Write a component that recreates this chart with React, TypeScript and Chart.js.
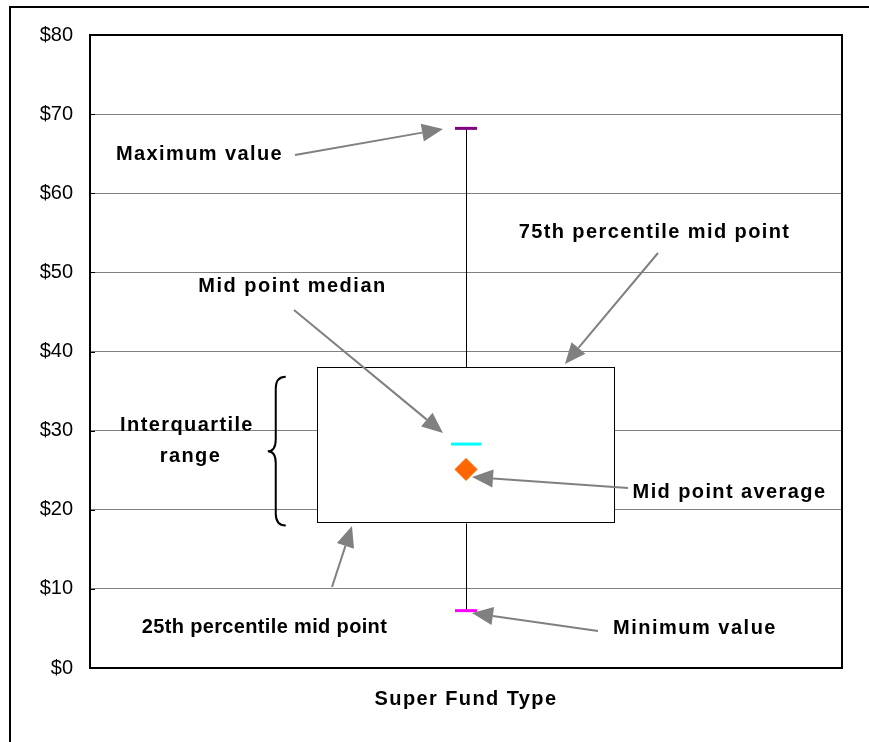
import React, { useEffect, useRef } from 'react';
import { Chart, registerables } from 'chart.js';

Chart.register(...registerables);

// ---- data ----
const categories = ['Super Fund Type'];
const q1Values = [18.3];
const q3Values = [38.0];
const medianValues = [28.3];
const averageValues = [25.1];
const maxValues = [68.2];
const minValues = [7.25];
const yMin = 0;
const yMax = 80;
const yStep = 10;
const tickPrefix = '$';

// ---- annotations (x as fraction of plot width, y as axis value) ----
const annotationTexts = [
  'Maximum value',
  '75th percentile mid point',
  'Mid point median',
  'Interquartile',
  'range',
  'Mid point average',
  '25th percentile mid point',
  'Minimum value',
];
const annotationTextX = [0.1456, 0.7507, 0.2693, 0.129, 0.1336, 0.8504, 0.232, 0.8045];
const annotationTextY = [64.85, 55.05, 48.25, 30.7, 26.78, 22.22, 5.16, 5.03];
const annotationSpacing = [1.4, 1.4, 1.5, 1.4, 1.4, 1.4, 0.35, 1.5];
const arrowFromX = [0.2726, 0.7553, 0.2713, 0.7154, 0.3218, 0.6755];
const arrowFromY = [64.83, 52.45, 45.25, 22.75, 10.24, 4.68];
const arrowToX = [0.4694, 0.6316, 0.4694, 0.508, 0.3484, 0.508];
const arrowToY = [68.12, 38.42, 29.7, 24.14, 17.95, 6.95];
const braceX = 0.247;
const braceTop = 36.8;
const braceBottom = 18.0;

const FONT = "'Liberation Sans', Arial, sans-serif";

const boxPlotPlugin = {
  id: 'boxPlotExtras',
  afterLayout(chart: any) {
    const xs = chart.scales.x;
    if (xs && !xs.__wrapped) {
      const orig = xs.drawLabels;
      xs.drawLabels = function (area: any) {
        const c = this.ctx;
        c.save();
        (c as any).letterSpacing = '1.4px';
        orig.call(this, area);
        c.restore();
      };
      xs.__wrapped = true;
    }
  },
  beforeDatasetsDraw(chart: any) {
    const { ctx, scales } = chart;
    const x = scales.x;
    const y = scales.y;
    ctx.save();
    ctx.strokeStyle = '#000000';
    ctx.lineWidth = 1;
    categories.forEach((_, i) => {
      const px = Math.round(x.getPixelForValue(i)) + 0.5;
      ctx.beginPath();
      ctx.moveTo(px, y.getPixelForValue(maxValues[i]));
      ctx.lineTo(px, y.getPixelForValue(q3Values[i]));
      ctx.moveTo(px, y.getPixelForValue(q1Values[i]));
      ctx.lineTo(px, y.getPixelForValue(minValues[i]));
      ctx.stroke();
    });
    ctx.restore();
  },
  afterDatasetsDraw(chart: any) {
    // crisp outline for the interquartile box
    const { ctx } = chart;
    const meta = chart.getDatasetMeta(chart.data.datasets.length - 1);
    ctx.save();
    ctx.strokeStyle = '#000000';
    ctx.lineWidth = 1;
    meta.data.forEach((bar: any) => {
      const p = bar.getProps(['x', 'y', 'base', 'width'], true);
      const l = Math.round(p.x - p.width / 2) + 0.5;
      const r = Math.round(p.x + p.width / 2) - 0.5;
      const t = Math.round(Math.min(p.y, p.base)) + 0.5;
      const b = Math.round(Math.max(p.y, p.base)) - 0.5;
      ctx.strokeRect(l, t, r - l, b - t);
    });
    ctx.restore();
  },
  afterDraw(chart: any) {
    const { ctx, chartArea, scales } = chart;
    const y = scales.y;
    const { left, top, right, bottom } = chartArea;
    const w = right - left;
    const px = (u: number) => left + u * w;
    const py = (v: number) => y.getPixelForValue(v);

    ctx.save();
    // plot frame
    ctx.strokeStyle = '#000000';
    ctx.lineWidth = 2;
    ctx.strokeRect(left, top, w, bottom - top);
    // inside tick marks
    ctx.lineWidth = 1;
    for (let v = yMin; v <= yMax; v += yStep) {
      const yy = Math.round(py(v)) + 0.5;
      ctx.beginPath();
      ctx.moveTo(left, yy);
      ctx.lineTo(left + 5, yy);
      ctx.stroke();
    }

    // arrows
    ctx.strokeStyle = '#808080';
    ctx.fillStyle = '#808080';
    ctx.lineWidth = 2;
    for (let i = 0; i < arrowFromX.length; i++) {
      const x1 = px(arrowFromX[i]);
      const y1 = py(arrowFromY[i]);
      const x2 = px(arrowToX[i]);
      const y2 = py(arrowToY[i]);
      const ang = Math.atan2(y2 - y1, x2 - x1);
      const hl = 21;
      const hw = 9;
      const bx = x2 - hl * Math.cos(ang);
      const by = y2 - hl * Math.sin(ang);
      ctx.beginPath();
      ctx.moveTo(x1, y1);
      ctx.lineTo(bx, by);
      ctx.stroke();
      ctx.beginPath();
      ctx.moveTo(x2, y2);
      ctx.lineTo(bx + hw * Math.sin(ang), by - hw * Math.cos(ang));
      ctx.lineTo(bx - hw * Math.sin(ang), by + hw * Math.cos(ang));
      ctx.closePath();
      ctx.fill();
    }

    // brace
    const bxp = px(braceX);
    const bt = py(braceTop);
    const bb = py(braceBottom);
    const bm = (bt + bb) / 2;
    const r = 12;
    ctx.strokeStyle = '#000000';
    ctx.lineWidth = 2;
    ctx.beginPath();
    ctx.moveTo(bxp + 10, bt);
    ctx.quadraticCurveTo(bxp, bt, bxp, bt + r);
    ctx.lineTo(bxp, bm - r);
    ctx.quadraticCurveTo(bxp, bm, bxp - 8, bm);
    ctx.quadraticCurveTo(bxp, bm, bxp, bm + r);
    ctx.lineTo(bxp, bb - r);
    ctx.quadraticCurveTo(bxp, bb, bxp + 10, bb);
    ctx.stroke();

    // texts
    ctx.fillStyle = '#000000';
    ctx.font = `bold 20px ${FONT}`;
    ctx.textAlign = 'center';
    ctx.textBaseline = 'middle';
    annotationTexts.forEach((t, i) => {
      (ctx as any).letterSpacing = annotationSpacing[i] + 'px';
      ctx.fillText(t, px(annotationTextX[i]), py(annotationTextY[i]));
    });
    (ctx as any).letterSpacing = '0px';

    // outer frame
    ctx.strokeStyle = '#000000';
    ctx.lineWidth = 2;
    ctx.strokeRect(10, 7, chart.width + 20, chart.height + 20);
    ctx.restore();
  },
};

export default function App() {
  const ref = useRef<HTMLCanvasElement | null>(null);
  useEffect(() => {
    if (!ref.current) return;
    const chart = new Chart(ref.current, {
      type: 'bar',
      data: {
        labels: categories,
        datasets: [
          {
            type: 'line',
            label: 'Maximum',
            data: maxValues,
            showLine: false,
            pointStyle: 'line',
            pointRadius: 11,
            pointBorderWidth: 3,
            pointBorderColor: '#800080',
            borderColor: '#800080',
            order: 0,
          } as any,
          {
            type: 'line',
            label: 'Median',
            data: medianValues,
            showLine: false,
            pointStyle: 'line',
            pointRadius: 15,
            pointBorderWidth: 3,
            pointBorderColor: '#00FFFF',
            borderColor: '#00FFFF',
            order: 0,
          },
          {
            type: 'line',
            label: 'Average',
            data: averageValues,
            showLine: false,
            pointStyle: 'rectRot',
            pointRadius: 11,
            pointBorderWidth: 1,
            pointBackgroundColor: '#FF6600',
            pointBorderColor: '#FF6600',
            borderColor: '#FF6600',
            order: 0,
          },
          {
            type: 'line',
            label: 'Minimum',
            data: minValues,
            showLine: false,
            pointStyle: 'line',
            pointRadius: 11,
            pointBorderWidth: 3,
            pointBorderColor: '#FF00FF',
            borderColor: '#FF00FF',
            order: 0,
          },
          {
            type: 'bar',
            label: 'Interquartile range',
            data: q1Values.map((q, i) => [q, q3Values[i]]),
            backgroundColor: '#FFFFFF',
            borderColor: '#000000',
            borderWidth: 0,
            borderSkipped: false,
            barPercentage: 0.395,
            categoryPercentage: 1,
            order: 10,
          },
        ],
      },
      options: {
        responsive: false,
        animation: false,
        events: [],
        layout: { padding: { left: 0, top: 35, right: 27, bottom: 0 } },
        plugins: {
          legend: { display: false },
          tooltip: { enabled: false },
          title: { display: false },
        },
        scales: {
          x: {
            type: 'category',
            grid: { display: false, drawTicks: false },
            border: { display: false },
            ticks: {
              color: '#000000',
              padding: 19,
              font: { family: FONT, size: 20, weight: 'bold' },
            },
            afterFit: (s: any) => {
              s.height = 74;
            },
          },
          y: {
            type: 'linear',
            min: yMin,
            max: yMax,
            grid: { color: '#808080', lineWidth: 1, drawTicks: false },
            border: { display: false },
            ticks: {
              stepSize: yStep,
              color: '#000000',
              padding: 17,
              font: { family: FONT, size: 20 },
              callback: (v: any) => tickPrefix + v,
            },
            afterFit: (s: any) => {
              s.width = 90;
            },
          },
        },
      },
      plugins: [boxPlotPlugin],
    } as any);
    return () => chart.destroy();
  }, []);

  return (
    <div style={{ position: 'absolute', left: 0, top: 0, width: 869, height: 742, overflow: 'hidden', background: '#FFFFFF' }}>
      <canvas ref={ref} width={869} height={742} style={{ display: 'block' }} />
    </div>
  );
}
